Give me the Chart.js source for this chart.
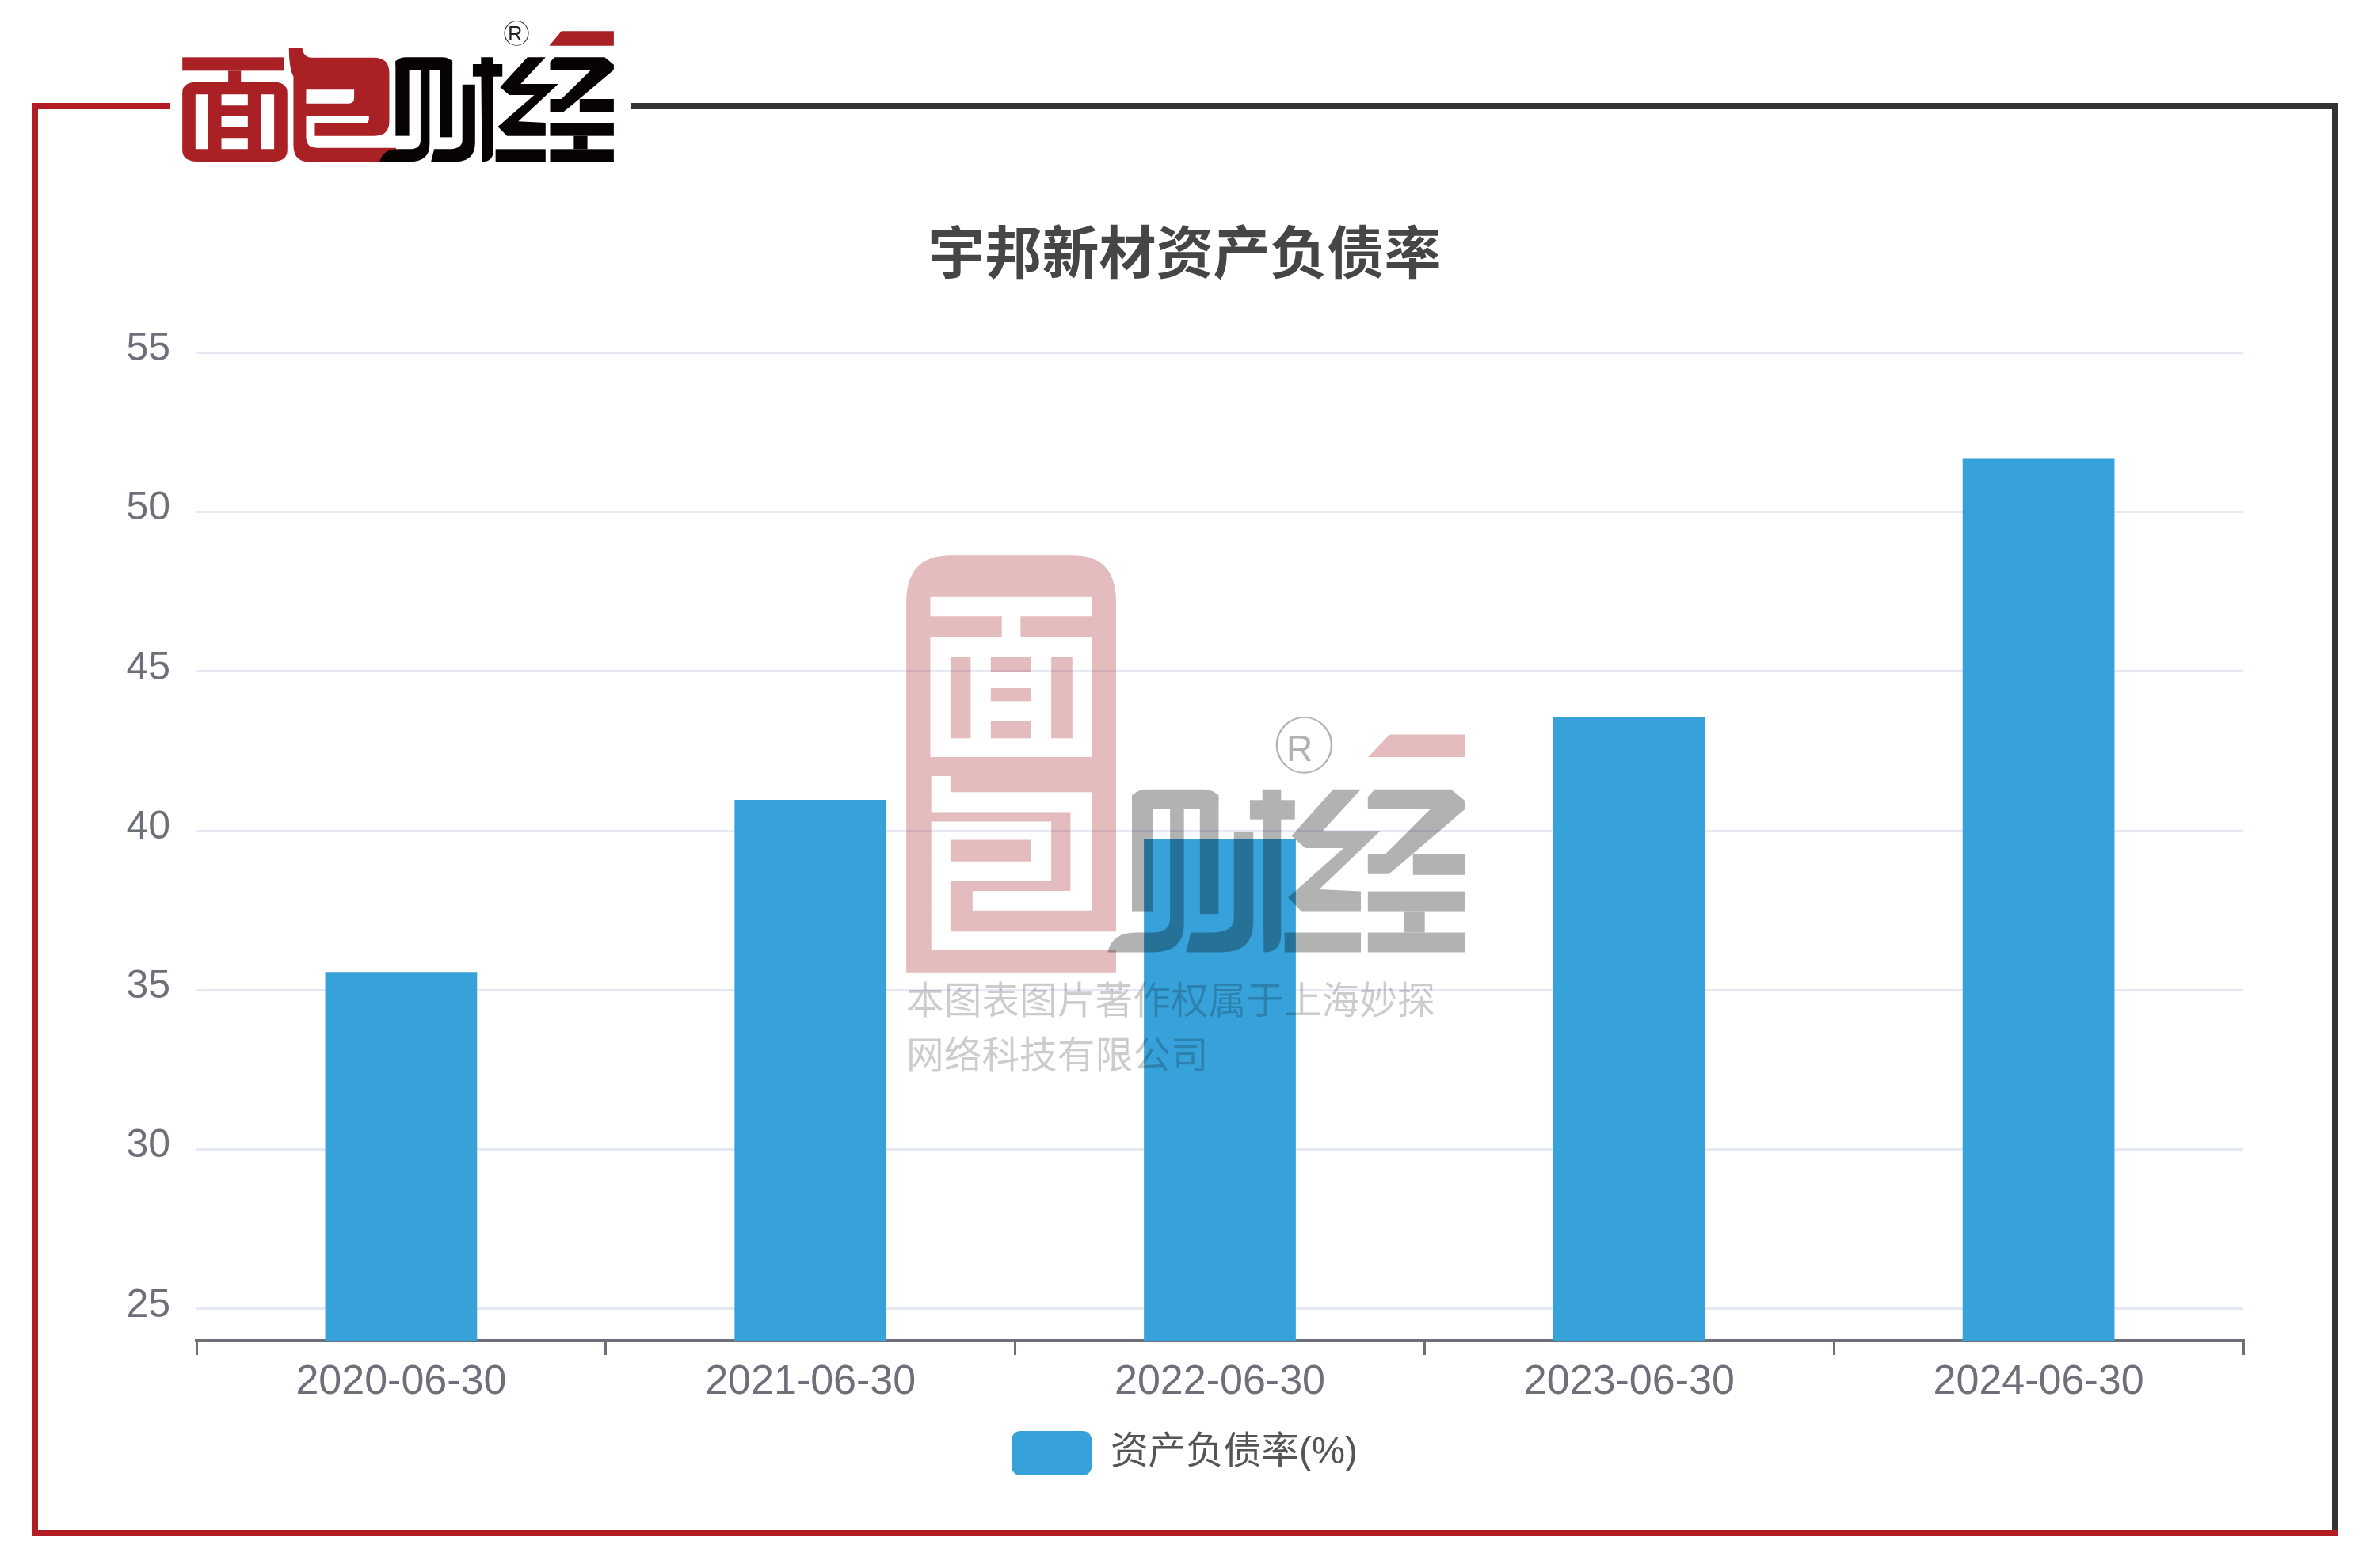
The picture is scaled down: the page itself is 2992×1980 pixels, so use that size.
<!DOCTYPE html>
<html>
<head>
<meta charset="utf-8">
<script src="https://cdn.jsdelivr.net/npm/chart.js@4/dist/chart.umd.min.js"></script>
<style>
html, body { margin: 0; padding: 0; background: #fff; }
#wrap { position: relative; width: 2992px; height: 1980px; overflow: hidden; }
#chart { position: absolute; left: 0; top: 0; }
.edge { position: absolute; }
.art { position: absolute; pointer-events: none; }
#mark-text {
    position: absolute; left: 1144px; top: 1225px;
    font: 47.7px/69px "Noto Sans CJK SC", sans-serif;
    color: rgba(0, 0, 0, 0.2); white-space: nowrap;
}
</style>
</head>
<body>
<div id="wrap">
    <canvas id="chart" width="2992" height="1980"></canvas>

    <!-- frame -->
    <div class="edge" style="left:40px;top:130px;width:8px;height:1809px;background:#b21c24"></div>
    <div class="edge" style="left:40px;top:130px;width:175px;height:8px;background:#b21c24"></div>
    <div class="edge" style="left:797px;top:130px;width:2155px;height:8px;background:#333"></div>
    <div class="edge" style="left:2944px;top:130px;width:8px;height:1809px;background:#333"></div>
    <div class="edge" style="left:40px;top:1932px;width:2912px;height:7px;background:#b21c24"></div>

    <!-- logo, drawn in zoomed coordinates -->
    <svg class="art" style="left:0;top:0" width="900" height="500" viewBox="0 0 1568 1500" preserveAspectRatio="none">
        <defs>
            <g id="caijing">
                <rect x="870" y="217" width="125" height="48" rx="22"/>
                <rect x="870" y="230" width="30" height="285"/>
                <rect x="968" y="230" width="27" height="290"/>
                <path d="M925,265 H945 V545 Q945,613 900,613 H835 Q842,565 875,565 H900 Q925,565 925,530 Z"/>
                <path d="M1017,320 H1045 V540 Q1045,613 1000,613 H948 L955,565 H985 Q1017,565 1017,530 Z"/>
                <path d="M1058,217 H1085 V570 Q1085,613 1060,613 Z"/>
                <rect x="1040" y="243" width="65" height="47"/>
                <path d="M1160,217 H1200 L1145,318 H1228 L1140,460 L1200,465 V515 H1115 L1095,480 L1175,360 H1120 L1100,330 Z"/>
                <rect x="1090" y="565" width="110" height="48"/>
                <path d="M1220,217 H1330 L1350,245 V265 L1260,395 L1240,423 H1210 V375 H1235 L1300,265 H1210 V235 Z"/>
                <rect x="1275" y="375" width="75" height="50"/>
                <rect x="1210" y="465" width="140" height="50"/>
                <rect x="1262" y="515" width="30" height="50"/>
                <rect x="1210" y="565" width="140" height="48"/>
            </g>
        </defs>
        <g fill="#a92124">
            <rect x="401" y="217" width="224" height="51"/>
            <rect x="502" y="268" width="28" height="42"/>
            <path fill-rule="evenodd" d="M401,350 Q401,310 440,310 H595 Q632,310 632,350 V570 Q632,613 595,613 H440 Q401,613 401,570 Z
                M430,358 V565 H458 V358 Z M487,358 V400 H545 V358 Z M487,440 V483 H545 V440 Z M487,523 V565 H545 V523 Z M574,358 V565 H603 V358 Z"/>
            <path fill-rule="evenodd" transform="translate(592,150) scale(0.5807,1)" d="M75,30 H125 Q130,68 160,68 H395 Q455,68 455,125 V310 Q455,365 400,365 H173 V315 H372 L378,305 V290 H140 V370 Q140,410 180,410 H480 V463 H150 Q92,463 92,400 V140 Q75,110 75,30 Z
                M140,190 H322 V222 Q322,242 300,242 H140 Z"/>
        </g>
        <use href="#caijing" fill="#070303"/>
        <path d="M1235,118 H1350 V173 H1208 Z" fill="#a92124"/>
        <ellipse cx="1136" cy="126" rx="26" ry="46" fill="none" stroke="#222" stroke-width="2"/>
        <text transform="translate(1117,152) scale(1.742,3)" font-family="Liberation Sans" font-size="25" fill="#222">R</text>
    </svg>

    <!-- watermark -->
    <svg class="art" style="left:1000px;top:650px" width="950" height="750" viewBox="0 0 1568 1568" preserveAspectRatio="none">
        <path opacity="0.3" fill="#a92124" fill-rule="evenodd" d="M238,230 Q238,107 330,107 H585 Q675,107 675,230 V1210 H238 Z
            M288,217 H624 V268 H476 V322 H624 V640 H288 V322 H437 V268 H288 Z
            M330,375 V590 H372 V375 Z M414,375 V415 H498 V375 Z M414,458 V492 H498 V458 Z M414,545 V590 H498 V545 Z M540,375 V590 H584 V375 Z
            M290,690 H330 V732 H624 V1045 H376 V993 H580 V785 H290 Z
            M290,810 H540 V968 H330 V1100 H675 V1150 H290 Z
            M330,858 V915 H498 V858 Z"/>
        <g opacity="0.3">
            <use href="#caijing" transform="translate(708,725) scale(1.446,1.086) translate(-870,-217)" fill="#000"/>
        </g>
        <path opacity="0.3" fill="#a92124" d="M1245,580 H1402 V640 H1200 Z"/>
        <ellipse cx="1067" cy="608" rx="57" ry="73" fill="none" stroke="#b2b2b2" stroke-width="4"/>
        <text transform="translate(1030,650) scale(1.65,2.09)" font-family="Liberation Sans" font-size="46" fill="#b2b2b2">R</text>
    </svg>
    <div id="mark-text">本图表图片著作权属于上海妙探<br>网络科技有限公司</div>
</div>

<script>
const categories = ['2020-06-30', '2021-06-30', '2022-06-30', '2023-06-30', '2024-06-30'];
const debtRatio = [35.55, 40.97, 39.74, 43.58, 51.69];
const yTicks = [25, 30, 35, 40, 45, 50, 55];
const seriesName = '资产负债率(%)';
const chartTitle = '宇邦新材资产负债率';

const fontFamily = '"Liberation Sans", "Noto Sans CJK SC", sans-serif';
const axisColor = '#6e7079';

const ctx = document.getElementById('chart').getContext('2d');

new Chart(ctx, {
    type: 'bar',
    data: {
        labels: categories,
        datasets: [{
            label: seriesName,
            data: debtRatio,
            backgroundColor: '#37a2da',
            borderWidth: 0,
            barPercentage: 1,
            categoryPercentage: 0.371
        }]
    },
    options: {
        responsive: false,
        animation: false,
        devicePixelRatio: 1,
        // same padding both sides keeps the title and the legend centred on the page
        layout: { padding: { left: 159, right: 160, top: 0, bottom: 107 } },
        plugins: {
            tooltip: { enabled: false },
            title: {
                display: true,
                text: chartTitle,
                color: '#464646',
                font: { family: fontFamily, size: 72, weight: 'bold' },
                padding: { top: 282, bottom: 77 }
            },
            legend: {
                position: 'bottom',
                labels: {
                    boxWidth: 101,
                    boxHeight: 56,
                    useBorderRadius: true,
                    borderRadius: 11,
                    color: '#555',
                    padding: 10,
                    font: { family: fontFamily, size: 47.6 }
                }
            }
        },
        scales: {
            x: {
                afterFit: (scale) => { scale.height = 104; },
                border: { color: axisColor, width: 4 },
                grid: { drawOnChartArea: false, color: axisColor, lineWidth: 3, tickLength: 18 },
                ticks: { color: axisColor, font: { family: fontFamily, size: 52 }, padding: 3, maxRotation: 0 }
            },
            y: {
                min: 24,
                max: 55,
                afterFit: (scale) => { scale.width = 89; },
                afterBuildTicks: (scale) => { scale.ticks = yTicks.map((v) => ({ value: v })); },
                border: { display: false },
                grid: { color: '#e4e9f4', lineWidth: 3, drawTicks: false, tickLength: 0 },
                ticks: { color: axisColor, font: { family: fontFamily, size: 50 }, padding: 33, labelOffset: -4 }
            }
        }
    }
});
</script>
</body>
</html>
